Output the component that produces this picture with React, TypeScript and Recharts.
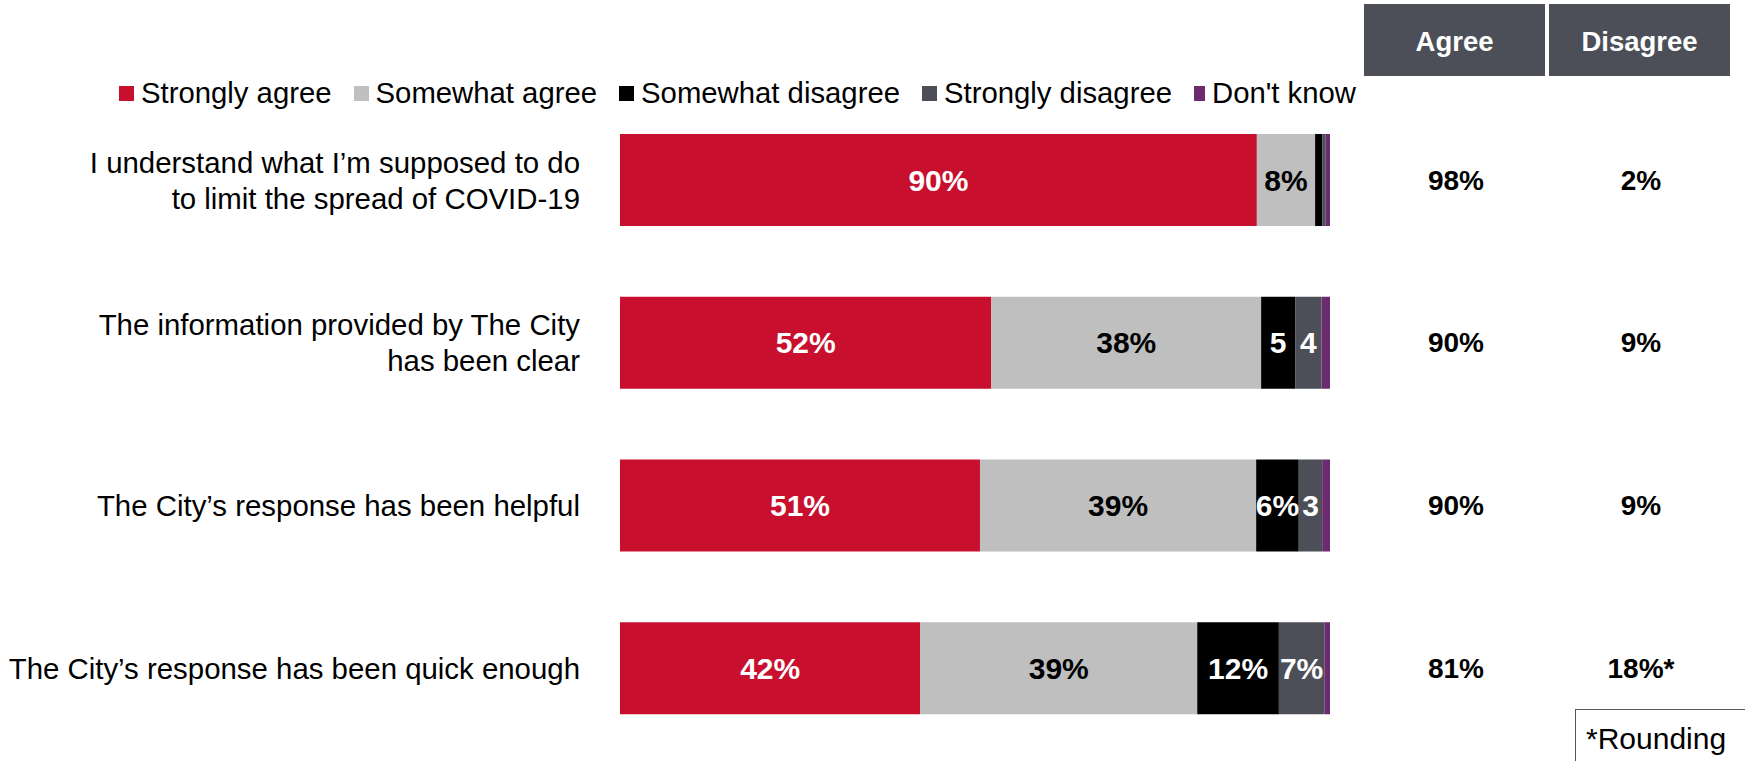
import React from 'react';
import { BarChart, Bar, XAxis, YAxis, LabelList } from 'recharts';

const categories = [
  'I understand what I’m supposed to do\nto limit the spread of COVID-19',
  'The information provided by The City\nhas been clear',
  'The City’s response has been helpful',
  'The City’s response has been quick enough',
];
const seriesNames = ['Strongly agree', 'Somewhat agree', 'Somewhat disagree', 'Strongly disagree', "Don't know"];
const stronglyAgree = [89.7, 52.3, 50.7, 42.3];
const somewhatAgree = [8.2, 38.0, 38.9, 39.0];
const somewhatDisagree = [1.0, 4.8, 6.0, 11.5];
const stronglyDisagree = [0.5, 3.7, 3.3, 6.4];
const dontKnow = [0.6, 1.2, 1.1, 0.8];

const labelsSA = ['90%', '52%', '51%', '42%'];
const labelsWA = ['8%', '38%', '39%', '39%'];
const labelsWD = ['', '5', '6%', '12%'];
const labelsSD = ['', '4', '3', '7%'];
const agreeTotals = ['98%', '90%', '90%', '81%'];
const disagreeTotals = ['2%', '9%', '9%', '18%*'];
const columnHeaders = ['Agree', 'Disagree'];

const COLORS = ['#C8102E', '#BFBFBF', '#000000', '#4C4F57', '#6A2C6E'];
const FONT = '"Liberation Sans", Arial, Helvetica, sans-serif';

const data = categories.map((name, i) => ({
  name,
  sa: stronglyAgree[i],
  wa: somewhatAgree[i],
  wd: somewhatDisagree[i],
  sd: stronglyDisagree[i],
  dk: dontKnow[i],
}));

const makeLabel = (labels: string[], color: string) => (props: any) => {
  const { x, y, width, height, index } = props;
  const t = labels[index];
  if (!t) return null;
  return (
    <text
      x={Number(x) + Number(width) / 2}
      y={Number(y) + Number(height) / 2}
      textAnchor="middle"
      dominantBaseline="central"
      fill={color}
      fontSize={30}
      fontWeight="bold"
      fontFamily={FONT}
    >
      {t}
    </text>
  );
};

const totalsLabel = (props: any) => {
  const { y, height, index } = props;
  const cy = Number(y) + Number(height) / 2;
  return (
    <g>
      <text x={1456} y={cy} textAnchor="middle" dominantBaseline="central" fontSize={28} fontWeight="bold" fontFamily={FONT} fill="#000">
        {agreeTotals[index]}
      </text>
      <text x={1641} y={cy} textAnchor="middle" dominantBaseline="central" fontSize={28} fontWeight="bold" fontFamily={FONT} fill="#000">
        {disagreeTotals[index]}
      </text>
    </g>
  );
};

const CategoryTick = (props: any) => {
  const { x, y, payload } = props;
  const lines = String(payload.value).split('\n');
  const lh = 36;
  const start = -((lines.length - 1) * lh) / 2;
  return (
    <text x={Number(x)} y={Number(y)} textAnchor="end" fontSize={29.4} fontFamily={FONT} fill="#000">
      {lines.map((l, i) => (
        <tspan key={i} x={Number(x) - 32} y={Number(y) + start + i * lh} dy="0.35em">
          {l}
        </tspan>
      ))}
    </text>
  );
};

export default function App() {
  return (
    <div style={{ position: 'absolute', left: 0, top: 0, width: 1745, height: 761, overflow: 'hidden', background: '#fff', fontFamily: FONT }}>
      <BarChart
        width={1745}
        height={761}
        data={data}
        layout="vertical"
        margin={{ top: 99, right: 415, bottom: 11, left: 0 }}
        barSize={92}
      >
        <XAxis type="number" domain={[0, 100]} hide />
        <YAxis type="category" dataKey="name" width={620} axisLine={false} tickLine={false} tick={<CategoryTick />} interval={0} />
        <Bar dataKey="sa" stackId="s" fill={COLORS[0]} isAnimationActive={false}>
          <LabelList dataKey="sa" content={makeLabel(labelsSA, '#fff')} />
        </Bar>
        <Bar dataKey="wa" stackId="s" fill={COLORS[1]} isAnimationActive={false}>
          <LabelList dataKey="wa" content={makeLabel(labelsWA, '#000')} />
        </Bar>
        <Bar dataKey="wd" stackId="s" fill={COLORS[2]} isAnimationActive={false}>
          <LabelList dataKey="wd" content={makeLabel(labelsWD, '#fff')} />
        </Bar>
        <Bar dataKey="sd" stackId="s" fill={COLORS[3]} isAnimationActive={false}>
          <LabelList dataKey="sd" content={makeLabel(labelsSD, '#fff')} />
        </Bar>
        <Bar dataKey="dk" stackId="s" fill={COLORS[4]} isAnimationActive={false}>
          <LabelList dataKey="dk" content={totalsLabel} />
        </Bar>
      </BarChart>

      {/* Legend */}
      <div style={{ position: 'absolute', left: 119, top: 76, display: 'flex', alignItems: 'center', height: 34, whiteSpace: 'nowrap' }}>
        {seriesNames.map((n, i) => (
          <div key={n} style={{ display: 'flex', alignItems: 'center', marginRight: 22 }}>
            <div style={{ width: i === 4 ? 11 : 15, height: 15, background: COLORS[i], marginRight: 7 }} />
            <span style={{ fontSize: 29.3, lineHeight: '34px', color: '#000' }}>{n}</span>
          </div>
        ))}
      </div>

      {/* Column headers */}
      {columnHeaders.map((h, i) => (
        <div
          key={h}
          style={{
            position: 'absolute',
            left: 1364 + i * 185,
            top: 4,
            width: 181,
            height: 72,
            background: '#4C4F57',
            color: '#fff',
            fontWeight: 'bold',
            fontSize: 27.5,
            display: 'flex',
            alignItems: 'center',
            justifyContent: 'center',
            paddingTop: 3,
            boxSizing: 'border-box',
          }}
        >
          {h}
        </div>
      ))}

      {/* Rounding note */}
      <div
        style={{
          position: 'absolute',
          left: 1575,
          top: 709,
          width: 220,
          height: 80,
          border: '1px solid #555',
          boxSizing: 'border-box',
          fontSize: 30,
          color: '#000',
          paddingLeft: 10,
          paddingTop: 12,
          lineHeight: '34px',
        }}
      >
        *Rounding
      </div>
    </div>
  );
}
